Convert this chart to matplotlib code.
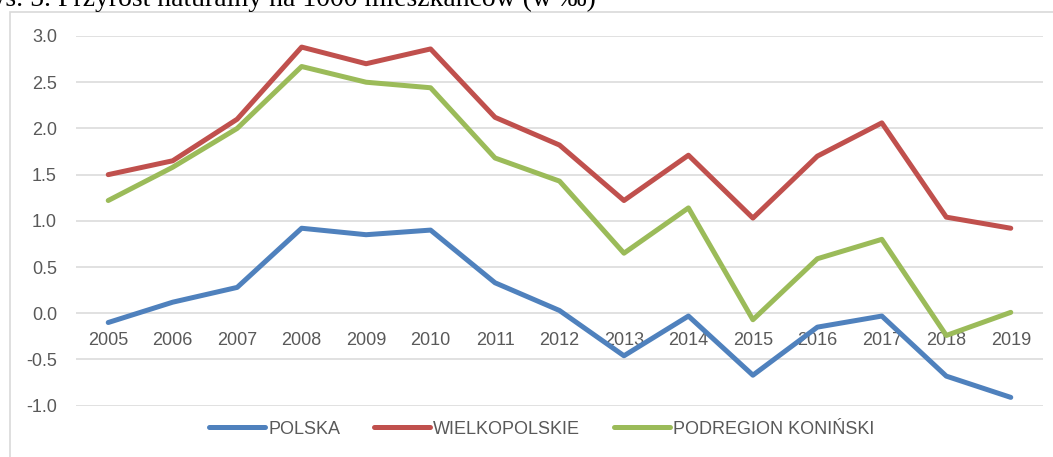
import matplotlib.pyplot as plt
from matplotlib.patches import Rectangle

years = ['2005', '2006', '2007', '2008', '2009', '2010', '2011', '2012',
         '2013', '2014', '2015', '2016', '2017', '2018', '2019']
polska = [-0.10, 0.12, 0.28, 0.92, 0.85, 0.90, 0.33, 0.03,
          -0.46, -0.03, -0.67, -0.15, -0.03, -0.68, -0.91]
wielkopolskie = [1.50, 1.65, 2.10, 2.88, 2.70, 2.86, 2.12, 1.82,
                 1.22, 1.71, 1.03, 1.70, 2.06, 1.04, 0.92]
koninski = [1.22, 1.58, 2.00, 2.67, 2.50, 2.44, 1.68, 1.43,
            0.65, 1.14, -0.07, 0.59, 0.80, -0.24, 0.01]
yticks = [-1.0, -0.5, 0.0, 0.5, 1.0, 1.5, 2.0, 2.5, 3.0]

plt.rcParams['font.family'] = ['Liberation Sans', 'DejaVu Sans']

W, H = 1053, 457
fig = plt.figure(figsize=(W / 100, H / 100), dpi=100)
ax = fig.add_axes([76 / W, 1 - 405.7 / H, (1043 - 76) / W, (405.7 - 36) / H])

x = list(range(len(years)))
ax.plot(x, polska, color='#4F81BD', lw=3.6, solid_capstyle='round', label='POLSKA')
ax.plot(x, wielkopolskie, color='#C0504D', lw=3.6, solid_capstyle='round', label='WIELKOPOLSKIE')
ax.plot(x, koninski, color='#9BBB59', lw=3.6, solid_capstyle='round', label='PODREGION KONIŃSKI')

ax.set_xlim(-0.5, len(years) - 0.5)
ax.set_ylim(-1.0, 3.0)
ax.set_yticks(yticks)
ax.set_yticklabels([f'{v:.1f}' for v in yticks])
ax.set_xticks(x)
ax.set_xticklabels(years)
ax.grid(axis='y', color='#d9d9d9', lw=1.1)
ax.set_axisbelow(True)
for s in ['top', 'right', 'left']:
    ax.spines[s].set_visible(False)
ax.spines['bottom'].set_position(('data', 0))
ax.spines['bottom'].set_visible(False)
ax.tick_params(axis='x', length=0, pad=13.5, labelsize=13, labelcolor='#595959')
ax.tick_params(axis='y', length=0, pad=13.7, labelsize=13, labelcolor='#595959')

leg = ax.legend(loc='center', bbox_to_anchor=(542 / W, 1 - 429 / H),
                bbox_transform=fig.transFigure, ncol=3, frameon=False,
                fontsize=13, handlelength=3.05, handletextpad=0.2,
                columnspacing=1.9)
for t in leg.get_texts():
    t.set_color('#595959')

# chart frame and the caption above it, cut by the top edge as in the source
fig.add_artist(Rectangle((10 / W, -0.05), 1.0, 1 - 12 / H + 0.05,
                         transform=fig.transFigure, fill=False,
                         edgecolor='#d9d9d9', lw=1.2))
fig.text(596 / W, 1 - 5.5 / H, 'Rys. 5. Przyrost naturalny na 1000 mieszkańców (w ‰)',
         ha='right', va='baseline', fontsize=20, color='black',
         family=['Liberation Serif', 'DejaVu Serif'])

fig.savefig('out.png', dpi=100)
